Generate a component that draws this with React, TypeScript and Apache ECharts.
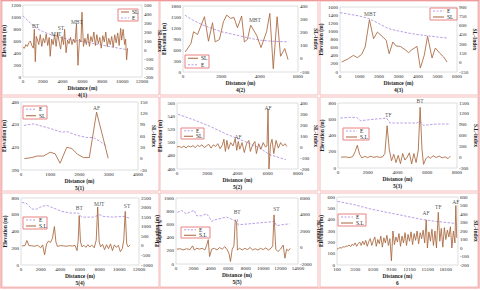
import React, { useEffect, useRef } from "react";
import * as echarts from "echarts";

type Pt = [number, number];
type Note = [string, number, number];

const SL_COLOR = "#a8653c";
const E_COLOR = "#b99de6";
const FONT = "Liberation Serif";

// ---------- 4(1)
const p41Elev: Pt[] = [[0,1020],[500,940],[1000,860],[1500,800],[2000,760],[2500,725],[3000,695],[4000,650],[5000,615],[6000,590],[7000,560],[8000,530],[9000,500],[10000,470],[10500,455]];
const p41SL: Pt[] = [[0,30],[150,20],[300,60],[450,40],[600,80],[750,100],[900,50],[1050,20],[1150,230],[1250,-130],[1350,150],[1450,120],[1600,60],[1750,170],[1900,40],[2050,130],[2200,80],[2350,180],[2500,50],[2650,140],[2750,-70],[2900,120],[3050,60],[3200,170],[3350,40],[3500,190],[3650,90],[3800,10],[3950,150],[4100,60],[4200,230],[4350,-30],[4500,110],[4650,70],[4800,140],[4950,60],[5100,120],[5250,80],[5400,290],[5550,-170],[5700,120],[5850,90],[5950,420],[6100,40],[6250,130],[6400,60],[6550,180],[6700,40],[6850,150],[7000,90],[7150,200],[7300,50],[7450,170],[7600,70],[7750,140],[7900,20],[8050,160],[8200,90],[8350,200],[8500,40],[8650,130],[8800,60],[8950,150],[9100,30],[9250,170],[9400,80],[9550,190],[9700,50],[9850,240],[9950,110],[10100,230],[10250,60],[10350,120],[10450,-110],[10550,20]];
const p41Notes: Note[] = [["BT",1280,850],["MJT",3360,720],["ST",3840,820],["MBT",5440,920]];

// ---------- 4(2)
const p42Elev: Pt[] = [[100,1550],[500,1420],[1000,1290],[1500,1190],[2000,1100],[2500,1040],[3000,980],[3500,920],[4000,870],[4500,845],[5000,830],[5500,823]];
const p42SL: Pt[] = [[120,52],[415,116],[550,205],[760,184],[1120,319],[1330,133],[1540,273],[1680,128],[1900,146],[2110,281],[2280,331],[2490,306],[2660,313],[2840,235],[3060,324],[3200,128],[3360,146],[3530,255],[3840,179],[4070,85],[4360,205],[4530,344],[4710,-75],[4910,319],[5090,19],[5310,78],[5480,-6]];
const p42Notes: Note[] = [["MBT",3750,1420]];

// ---------- 4(3)
const p43Elev: Pt[] = [[0,1460],[500,1420],[1000,1378],[1500,1310],[2000,1190],[2500,1066],[3000,1009],[3500,960],[4000,920],[4500,890],[5000,861],[5500,837]];
const p43SL: Pt[] = [[85,11],[430,65],[690,119],[890,81],[1110,135],[1290,254],[1510,695],[1720,388],[1920,495],[2200,415],[2370,361],[2520,146],[2710,334],[2880,270],[3090,264],[3340,211],[3520,162],[3690,211],[3950,264],[4120,-86],[4320,119],[4490,426],[4720,76],[4890,237],[5110,157],[5320,92],[5490,11]];
const p43Notes: Note[] = [["MBT",1540,1420]];

// ---------- 5(1)
const p51Elev: Pt[] = [[100,449],[430,451],[714,448],[997,445],[1394,440],[1564,441],[1904,436],[2244,433],[2470,433],[2697,428],[2950,421]];
const p51SL: Pt[] = [[113,0],[374,3],[544,7],[771,7],[997,17],[1167,13],[1337,-12],[1564,30],[1734,27],[1927,12],[2130,3],[2335,3],[2584,123],[2810,54],[2980,1]];
const p51Notes: Note[] = [["AF",2584,472]];

// ---------- 5(2)
const p52Elev: Pt[] = [[60,543],[1050,535],[2150,525],[3250,513],[4350,503],[5450,492],[6100,482],[7200,474]];
const p52SL: Pt[] = [[0,0],[150,5],[300,-5],[450,8],[600,-8],[750,10],[900,0],[1050,12],[1200,-5],[1350,15],[1500,5],[1650,20],[1800,-5],[1950,10],[2100,25],[2250,-10],[2400,20],[2550,5],[2700,30],[2850,-15],[3000,20],[3100,70],[3200,-40],[3300,60],[3400,-20],[3550,40],[3700,10],[3850,75],[3950,-30],[4050,50],[4150,-20],[4300,40],[4450,-50],[4600,30],[4750,60],[4850,-40],[5000,20],[5150,50],[5250,-60],[5400,30],[5550,-20],[5700,40],[5850,0],[5950,10],[6020,345],[6080,-200],[6180,20],[6280,70],[6400,-60],[6550,60],[6700,-10],[6850,40],[7000,10],[7150,30],[7250,5]];
const p52Notes: Note[] = [["AF",4030,508],["AF",6013,553]];

// ---------- 5(3)
const p53Elev: Pt[] = [[158,615],[790,623],[1240,623],[1510,582],[2140,595],[2815,607],[3266,615],[3490,554],[4167,554],[5293,554],[5518,574],[5743,525],[6644,541],[7545,541]];
const p53SL: Pt[] = [[200,0],[500,5],[800,-10],[1000,20],[1150,150],[1300,330],[1450,80],[1600,-20],[1800,20],[2000,-10],[2200,25],[2400,-5],[2600,15],[2800,-5],[3000,10],[3150,100],[3300,870],[3450,200],[3600,-100],[3750,80],[3900,-150],[4050,50],[4200,-180],[4350,100],[4500,-80],[4650,0],[4800,120],[4950,-190],[5100,100],[5250,-150],[5400,200],[5520,1380],[5650,200],[5750,-200],[5900,-50],[6050,20],[6200,-30],[6400,40],[6600,-10],[6800,30],[7000,-20],[7200,10],[7400,-40],[7550,30]];
const p53Notes: Note[] = [["TF",3378,650],["BT",5518,830]];

// ---------- 5(4)
const p54Elev: Pt[] = [[100,748],[607,732],[1112,668],[1618,668],[2123,700],[2629,712],[3303,680],[4146,640],[4988,620],[5831,620],[6168,572],[7348,572],[8022,600],[8359,580],[9370,572],[10381,580],[11056,560]];
const p54SL: Pt[] = [[100,0],[400,10],[600,280],[800,20],[1100,0],[1400,-20],[1700,30],[2000,-100],[2200,50],[2400,-470],[2600,100],[2800,250],[3000,180],[3200,400],[3400,1010],[3550,200],[3700,-30],[4000,10],[4300,0],[4600,-20],[4900,10],[5200,-10],[5500,20],[5700,-250],[5820,300],[5920,1580],[6050,200],[6200,-50],[6400,30],[6600,-80],[6800,60],[7000,-60],[7200,40],[7450,-100],[7650,300],[7800,2030],[7950,200],[8100,-50],[8300,80],[8500,-200],[8700,60],[8900,-150],[9100,100],[9300,-250],[9500,50],[9700,-80],[9900,30],[10100,-300],[10300,-150],[10450,300],[10600,1800],[10750,100],[10900,-50],[11100,50]];
const p54Notes: Note[] = [["BT",5932,680],["MJT",7955,732],["ST",10786,708]];

// ---------- 5(5)
const p55Elev: Pt[] = [[153,782],[649,812],[1145,761],[1794,797],[2099,812],[2366,731],[2939,731],[3511,761],[3893,695],[4084,645],[4466,670],[5802,711],[6374,680],[6756,660],[7023,680],[7137,594],[9237,619],[11336,645],[11527,579],[12099,594],[13053,609]];
const p55SL: Pt[] = [[100,-200],[500,-150],[800,-300],[1200,-150],[1600,-250],[1900,200],[2100,-300],[2400,-100],[2700,-200],[3000,-100],[3300,-300],[3500,200],[3700,950],[3850,-1100],[4100,-200],[4400,-100],[4700,-300],[5000,0],[5300,-200],[5600,100],[5900,-300],[6100,-800],[6250,-1700],[6450,-200],[6650,200],[6800,3300],[6950,3100],[7050,-300],[7300,-100],[7600,-300],[7900,-100],[8200,-250],[8500,0],[8800,-300],[9100,-150],[9400,-300],[9700,-100],[10000,-250],[10300,-50],[10600,-300],[10900,-100],[11100,200],[11250,3950],[11450,-200],[11700,-500],[12000,-200],[12300,300],[12500,-1300],[12700,-200],[12900,-400],[13100,-100]];
const p55Notes: Note[] = [["BT",7023,790],["ST",11527,830]];

// ---------- 6
const p6Elev: Pt[] = [[209,561],[2937,532],[5665,494],[8391,464],[11119,435],[13846,405],[16574,384],[19301,369],[19850,363]];
const p6SL: Pt[] = [[100,-15],[350,-5],[600,5],[850,0],[1100,15],[1350,10],[1600,25],[1850,20],[2100,35],[2350,15],[2600,45],[2850,30],[3100,60],[3350,20],[3600,50],[3850,70],[4100,30],[4350,80],[4600,40],[4850,90],[5100,20],[5350,75],[5600,110],[5850,30],[6100,85],[6350,130],[6600,20],[6850,100],[7100,50],[7350,140],[7600,10],[7850,120],[8100,60],[8350,150],[8600,30],[8850,110],[9100,-150],[9350,200],[9600,40],[9850,130],[10100,70],[10350,170],[10600,20],[10850,140],[11100,60],[11350,180],[11600,30],[11850,160],[12100,80],[12350,190],[12600,40],[12850,170],[13100,90],[13350,200],[13600,50],[13850,180],[14100,110],[14350,210],[14600,60],[14850,330],[15050,0],[15300,190],[15550,80],[15800,220],[16050,30],[16300,200],[16550,0],[16850,420],[17100,80],[17350,230],[17600,10],[17850,240],[18100,100],[18350,210],[18600,130],[18850,250],[19100,0],[19350,200],[19600,60],[19750,500],[19900,120]];
const p6Notes: Note[] = [["AF",14831,458],["TF",16849,511],["AF",19740,553]];

// ---------- axes / texts
const panelLabels = ["4(1)", "4(2)", "4(3)", "5(1)", "5(2)", "5(3)", "5(4)", "5(5)", "6"];
const rightNames = ["SL-Index", "SL-index", "SL-Index", "SL-Index", "SL-Index", "S.L-index", "S.L-index", "SL-Index", "SL-index"];
const slNames = ["SL", "SL", "SL", "SL", "SL", "S.L", "S.L", "S.L", "S.L"];
const legendOrders: string[][] = [["SL", "E"], ["SL", "E"], ["E", "SL"], ["E", "SL"], ["E", "SL"], ["E", "SL"], ["E", "SL"], ["E", "SL"], ["E", "SL"]];
const xRanges: [number, number, number][] = [[0, 12000, 2000], [0, 6000, 2000], [0, 6000, 1000], [0, 4000, 1000], [0, 8000, 2000], [0, 8000, 2000], [0, 12000, 2000], [0, 14000, 2000], [100, 20100, 3000]];
const leftRanges: [number, number, number][] = [[0, 1200, 200], [0, 1800, 300], [0, 1600, 200], [390, 480, 30], [460, 560, 20], [0, 800, 200], [0, 800, 200], [0, 1000, 200], [0, 600, 100]];
const rightRanges: [number, number, number][] = [[-300, 500, 100], [-100, 400, 100], [-150, 900, 150], [-30, 150, 30], [-200, 400, 100], [-300, 1500, 300], [-1000, 2500, 500], [-2000, 6000, 2000], [-200, 600, 100]];

const elevSets = [p41Elev, p42Elev, p43Elev, p51Elev, p52Elev, p53Elev, p54Elev, p55Elev, p6Elev];
const slSets = [p41SL, p42SL, p43SL, p51SL, p52SL, p53SL, p54SL, p55SL, p6SL];
const noteSets = [p41Notes, p42Notes, p43Notes, p51Notes, p52Notes, p53Notes, p54Notes, p55Notes, p6Notes];

// layout (pixels)
const grids = [
  { left: 19, top: 5, width: 123, height: 72 },
  { left: 183, top: 6, width: 115, height: 66 },
  { left: 340, top: 7, width: 117, height: 65 },
  { left: 21, top: 102, width: 117, height: 68 },
  { left: 177, top: 103, width: 121, height: 66 },
  { left: 338, top: 103, width: 119, height: 65 },
  { left: 21, top: 198, width: 118, height: 67 },
  { left: 176, top: 198, width: 122, height: 66 },
  { left: 337, top: 197, width: 121, height: 68 },
];
const leftGaps = [14, 16, 16, 14, 14, 13, 13, 14, 13];
const rightGaps = [15, 14, 15, 13, 14, 15, 15, 15, 14];
const legendBoxes = [
  [118, 9, 20, 12], [185, 55, 24, 13], [430, 8, 27, 12],
  [23, 106, 24, 13], [181, 128, 23, 11], [343, 128, 26, 12],
  [23, 217, 24, 12], [181, 227, 29, 11], [338, 214, 28, 12],
];
const panelBoxes = [
  [2, 1, 157, 94], [160, 1, 158, 94], [320, 1, 158, 94],
  [2, 97, 157, 94], [160, 97, 158, 94], [320, 97, 158, 94],
  [2, 193, 157, 94], [160, 193, 158, 94], [320, 193, 158, 94],
];

const plain = (v: number) => String(v);

function buildOption() {
  const grid: any[] = [];
  const xAxis: any[] = [];
  const yAxis: any[] = [];
  const series: any[] = [];
  const graphic: any[] = [];

  const tickLabel = { fontFamily: FONT, fontSize: 5, color: "#222", margin: 2, formatter: plain };
  const nameStyle = { fontFamily: FONT, fontSize: 5.5, fontWeight: "bold", color: "#222" };

  panelBoxes.forEach((b) => {
    graphic.push({ type: "rect", shape: { x: b[0], y: b[1], width: b[2], height: b[3] }, style: { fill: "none", stroke: "#f4bcbc", lineWidth: 1 }, silent: true, z: -1 });
  });
  graphic.push({ type: "rect", shape: { x: 1, y: 0.5, width: 478, height: 287.5 }, style: { fill: "none", stroke: "#ef9a9a", lineWidth: 1.2 }, silent: true, z: -1 });

  for (let i = 0; i < 9; i++) {
    grid.push({ ...grids[i], show: true, borderColor: "#d6d6d6", borderWidth: 0.8, backgroundColor: "#fff", containLabel: false });
    const [xmin, xmax, xint] = xRanges[i];
    xAxis.push({
      type: "value", gridIndex: i, min: xmin, max: xmax, interval: xint,
      axisLine: { show: false }, axisTick: { show: false }, splitLine: { show: false },
      axisLabel: { ...tickLabel, showMaxLabel: i !== 8 },
      name: "Distance (m)\n" + panelLabels[i], nameLocation: "middle", nameGap: 8,
      nameTextStyle: { ...nameStyle, lineHeight: 6.5 },
    });
    const [lmin, lmax, lint] = leftRanges[i];
    yAxis.push({
      type: "value", gridIndex: i, position: "left", min: lmin, max: lmax, interval: lint,
      axisLine: { show: false }, axisTick: { show: false }, splitLine: { show: false },
      axisLabel: tickLabel,
      name: "Elevation (m)", nameLocation: "middle", nameGap: leftGaps[i], nameRotate: 90,
      nameTextStyle: nameStyle,
    });
    const [rmin, rmax, rint] = rightRanges[i];
    yAxis.push({
      type: "value", gridIndex: i, position: "right", min: rmin, max: rmax, interval: rint,
      axisLine: { show: false }, axisTick: { show: false }, splitLine: { show: false },
      axisLabel: tickLabel,
      name: rightNames[i], nameLocation: "middle", nameGap: rightGaps[i], nameRotate: -90,
      nameTextStyle: nameStyle,
    });
    series.push({
      type: "line", name: "E", xAxisIndex: i, yAxisIndex: 2 * i, data: elevSets[i],
      showSymbol: false, symbol: "none", lineStyle: { color: E_COLOR, width: 1, type: [2.5, 1.5] }, z: 2,
    });
    series.push({
      type: "line", name: slNames[i], xAxisIndex: i, yAxisIndex: 2 * i + 1, data: slSets[i],
      showSymbol: false, symbol: "none", lineStyle: { color: SL_COLOR, width: 0.85 }, z: 3,
    });
    series.push({
      type: "scatter", xAxisIndex: i, yAxisIndex: 2 * i, clip: false, silent: true,
      symbolSize: 1, itemStyle: { color: "rgba(0,0,0,0)" },
      data: noteSets[i].map((n) => ({ name: n[0], value: [n[1], n[2]] })),
      label: { show: true, position: "inside", formatter: "{b}", fontFamily: FONT, fontSize: 5.5, color: "#222" },
      z: 5,
    });

    const [lx, ly, lw, lh] = legendBoxes[i];
    const x2 = Math.round(lw * 0.45) + 2;
    const children: any[] = [
      { type: "rect", shape: { x: 0, y: 0, width: lw, height: lh }, style: { fill: "#fff", stroke: "#e98080", lineWidth: 1 } },
    ];
    legendOrders[i].forEach((k, r) => {
      const cy = lh * (r + 0.5) / 2;
      const isE = k === "E";
      children.push({ type: "line", shape: { x1: 3, y1: cy, x2, y2: cy }, style: { stroke: isE ? E_COLOR : SL_COLOR, lineWidth: 1, lineDash: isE ? [2, 1.5] : null } });
      children.push({ type: "text", x: x2 + 3, y: cy, style: { text: isE ? "E" : slNames[i], fontFamily: FONT, fontSize: 5.5, fill: "#222", verticalAlign: "middle", align: "left" } });
    });
    graphic.push({ type: "group", x: lx, y: ly, children, z: 10 });
  }

  return {
    animation: false,
    backgroundColor: "#fff",
    grid, xAxis, yAxis, series, graphic,
  };
}

export default function App() {
  const ref = useRef<HTMLDivElement>(null);
  useEffect(() => {
    if (!ref.current) return;
    const chart = echarts.init(ref.current, undefined, { renderer: "svg" });
    chart.setOption(buildOption() as any);
    return () => chart.dispose();
  }, []);
  return (
    <div
      ref={ref}
      style={{ position: "fixed", left: 0, top: 0, width: 480, height: 290, background: "#fff" }}
    />
  );
}
